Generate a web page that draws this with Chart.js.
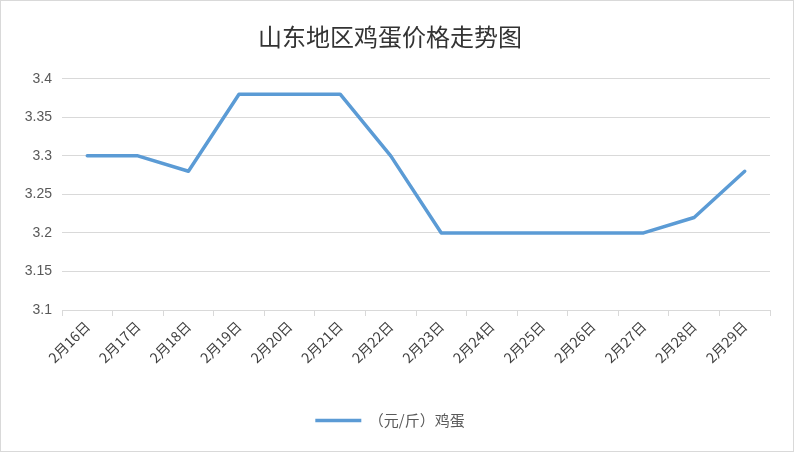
<!DOCTYPE html>
<html>
<head>
<meta charset="utf-8">
<script src="https://cdn.jsdelivr.net/npm/chart.js@4.4.1/dist/chart.umd.min.js"></script>
<style>
    html, body { margin: 0; padding: 0; background: #fff; }
    #wrap { width: 794px; height: 452px; }
</style>
</head>
<body>
<div id="wrap"><canvas id="price-chart" width="794" height="452"></canvas></div>
<script>
// Chart data
const dates = ['2月16日', '2月17日', '2月18日', '2月19日', '2月20日', '2月21日', '2月22日',
    '2月23日', '2月24日', '2月25日', '2月26日', '2月27日', '2月28日', '2月29日'];
const eggPrices = [3.3, 3.3, 3.28, 3.38, 3.38, 3.38, 3.3, 3.2, 3.2, 3.2, 3.2, 3.2, 3.22, 3.28];
const yTicks = [3.1, 3.15, 3.2, 3.25, 3.3, 3.35, 3.4];

const cjkFont = '"Noto Sans CJK SC", "Noto Sans", sans-serif';

// white background + thin frame round the picture
const framePlugin = {
    id: 'frame',
    beforeDraw(chart) {
        const c = chart.ctx;
        c.save();
        c.fillStyle = '#ffffff';
        c.fillRect(0, 0, chart.width, chart.height);
        c.strokeStyle = '#d9d9d9';
        c.lineWidth = 1;
        c.strokeRect(0.5, 0.5, chart.width - 1, chart.height - 1);
        c.restore();
    }
};

const ctx = document.getElementById('price-chart').getContext('2d');

new Chart(ctx, {
    type: 'line',
    data: {
        labels: dates,
        datasets: [
            {
                label: '（元/斤）鸡蛋',
                data: eggPrices,
                borderColor: '#5b9bd5',
                backgroundColor: '#5b9bd5',
                borderWidth: 3.5,
                pointRadius: 0,
                tension: 0,
                borderCapStyle: 'round',
                borderJoinStyle: 'round'
            }
        ]
    },
    options: {
        responsive: false,
        animation: false,
        layout: {
            padding: { left: 10, right: 24, top: 10, bottom: 14 }
        },
        plugins: {
            title: {
                display: true,
                text: '山东地区鸡蛋价格走势图',
                color: '#333333',
                font: { family: cjkFont, size: 24, weight: 'normal' },
                padding: { top: 12, bottom: 28 }
            },
            legend: {
                position: 'bottom',
                labels: {
                    usePointStyle: true,
                    pointStyle: 'line',
                    pointStyleWidth: 46,
                    color: '#595959',
                    font: { family: cjkFont, size: 15 },
                    padding: 10
                }
            },
            tooltip: { enabled: false }
        },
        scales: {
            x: {
                offset: true,
                grid: {
                    display: true,
                    drawOnChartArea: false,
                    drawTicks: true,
                    tickLength: 6,
                    offset: true,
                    color: '#d9d9d9'
                },
                border: { color: '#d9d9d9', width: 1 },
                ticks: {
                    color: '#404040',
                    font: { family: cjkFont, size: 14 },
                    minRotation: 45,
                    maxRotation: 45,
                    autoSkip: false,
                    padding: 2
                },
                afterFit(scale) {
                    scale.height = 93;
                }
            },
            y: {
                min: 3.1,
                max: 3.4,
                afterBuildTicks(scale) {
                    scale.ticks = yTicks.map(v => ({ value: v }));
                },
                grid: {
                    color: '#d9d9d9',
                    drawTicks: false
                },
                border: { display: false },
                ticks: {
                    color: '#595959',
                    font: { family: '"Liberation Sans", Arial, sans-serif', size: 14 },
                    padding: 10,
                    callback: v => String(Math.round(v * 100) / 100)
                },
                afterFit(scale) {
                    scale.width = 52;
                }
            }
        }
    },
    plugins: [framePlugin]
});
</script>
</body>
</html>
